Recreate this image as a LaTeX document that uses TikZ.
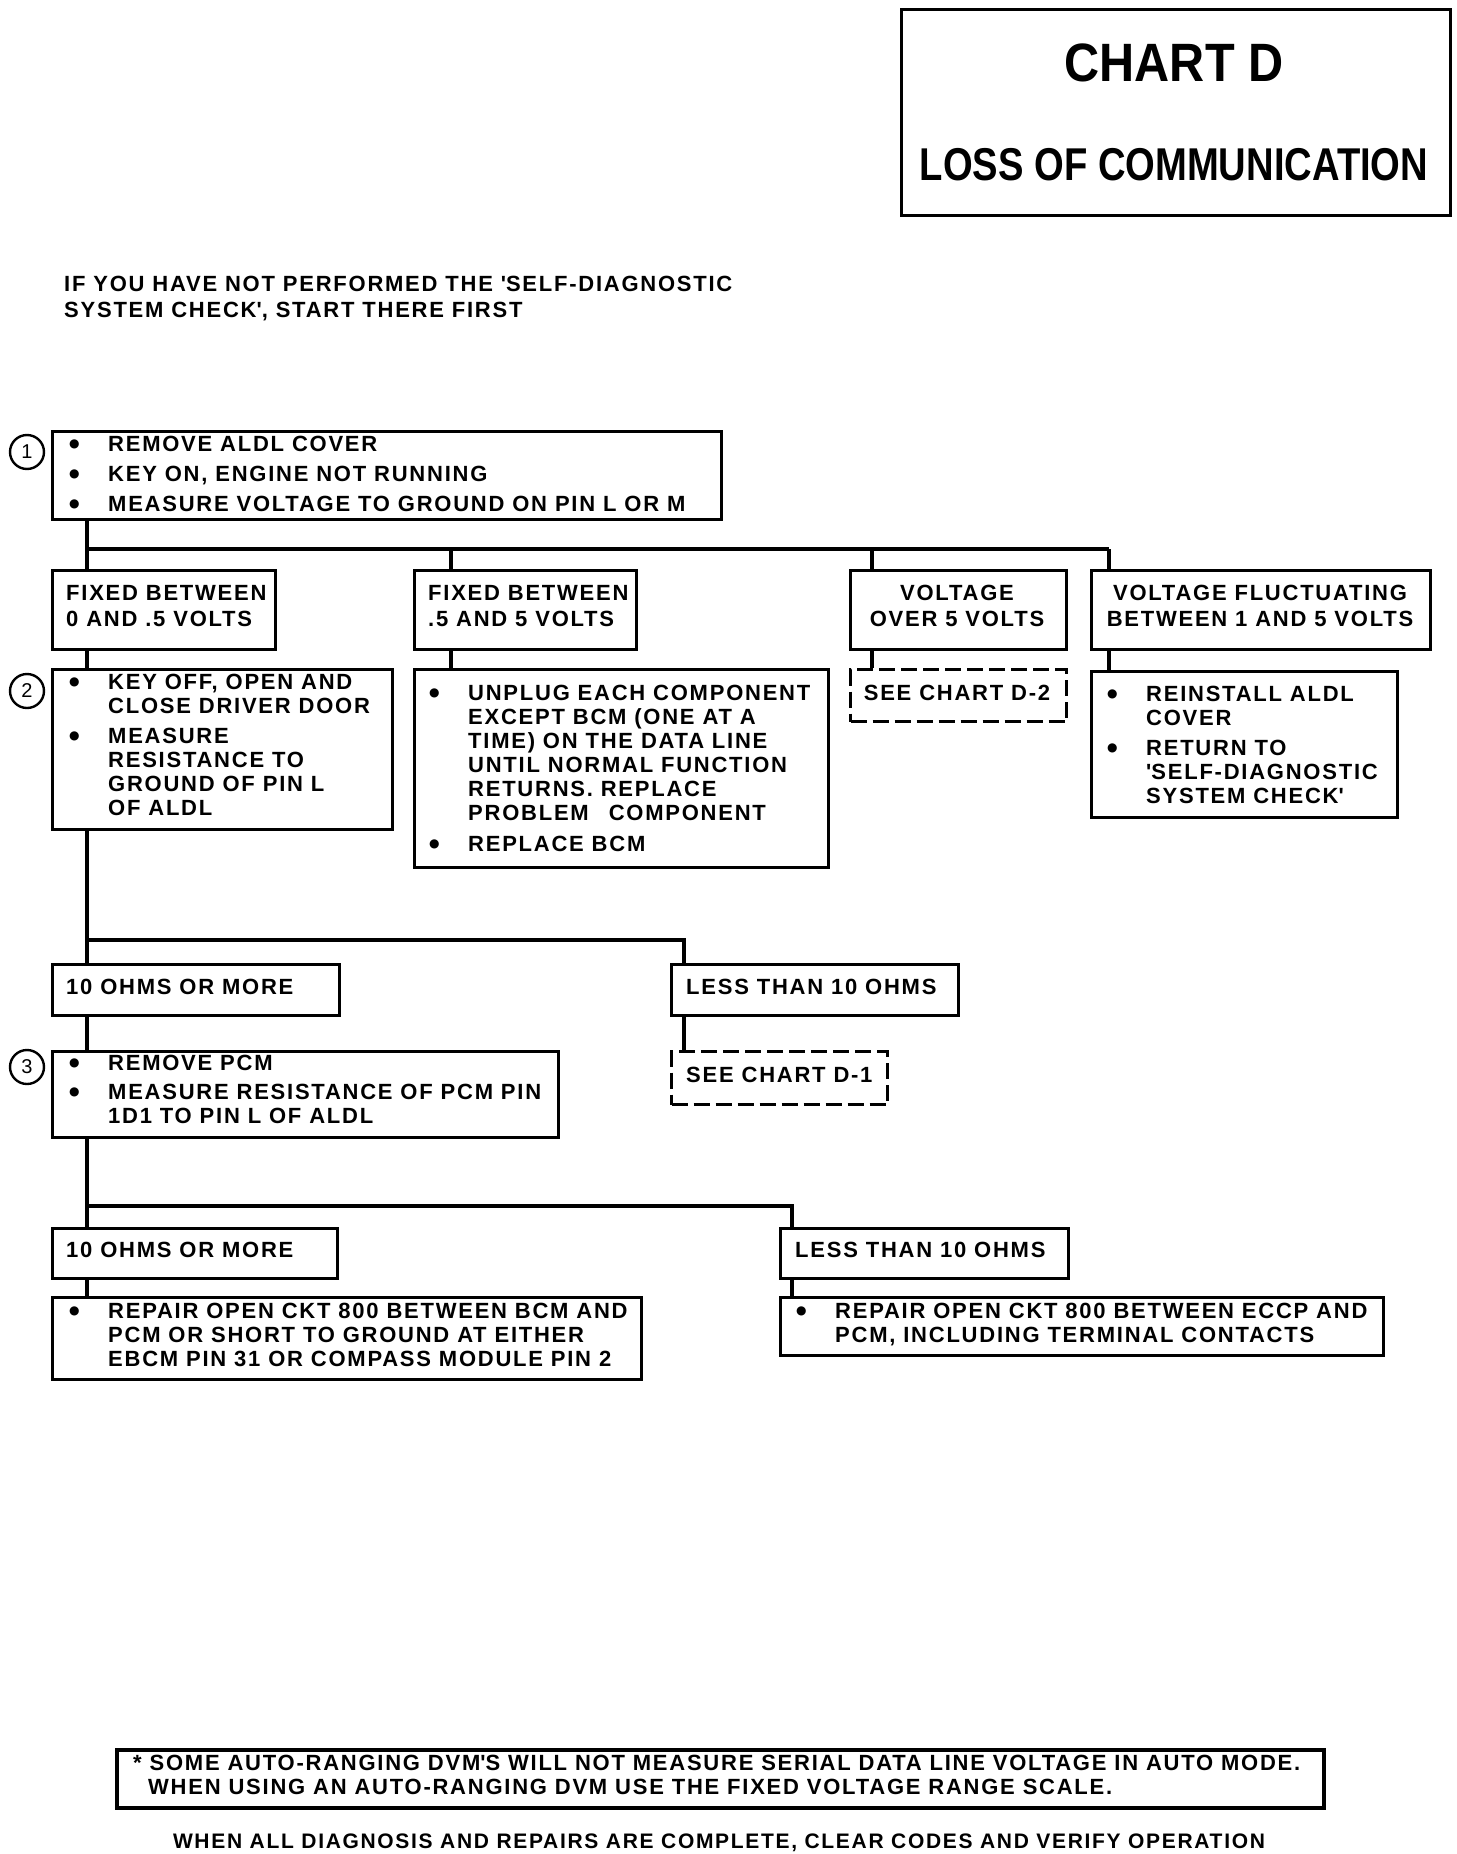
\documentclass[tikz,border=0pt]{standalone}
\usepackage{fontspec}
\newfontfamily\chartfont{Liberation Sans}[LetterSpace=8]
\newfontfamily\titlefont{Liberation Sans}
\newfontfamily\dotfont{DejaVu Sans}
\newcommand{\boxtext}[1]{\begin{tabular}[t]{@{}l@{}}#1\end{tabular}}
\newcommand{\boxtextc}[1]{\begin{tabular}[t]{@{}c@{}}#1\end{tabular}}
\newcommand{\bul}{\llap{\raisebox{3.5pt}{\dotfont\fontsize{12}{12}\selectfont ●}\hspace{28.5pt}}}
\tikzset{
  box/.style={draw, line width=3pt, inner sep=0pt, anchor=north west},
  dashbox/.style={box, dash pattern=on 16pt off 6pt},
  txt/.style={inner sep=0pt, anchor=base west, font=\chartfont\bfseries\fontsize{22}{24}\selectfont},
  txtc/.style={txt, anchor=base},
  link/.style={line width=3.2pt},
  stepnum/.style={draw, circle, line width=2.4pt, minimum size=34pt, inner sep=0pt,
    font=\titlefont\fontsize{20}{20}\selectfont},
}
\begin{document}
\begin{tikzpicture}[x=1pt, y=-1pt]
    \useasboundingbox (0,0) rectangle (1456,1854);
    % title
    \node[box, line width=3.2pt, minimum width=549pt, minimum height=206pt] (title) at (900,8) {};
    \node[inner sep=0pt, font=\titlefont\bfseries\fontsize{54}{54}\selectfont] (title1) at (1174,63) {\scalebox{0.9}[1]{CHART D}};
    \node[inner sep=0pt, font=\titlefont\bfseries\fontsize{46}{46}\selectfont] (title2) at (1174,165) {\scalebox{0.83}[1]{LOSS OF COMMUNICATION}};
    \node[txt] (intro) at (64,291) {\boxtext{IF YOU HAVE NOT PERFORMED THE \textquotesingle SELF-DIAGNOSTIC\\[2pt] SYSTEM CHECK\textquotesingle, START THERE FIRST}};

    % step 1
    \node[stepnum] (n1) at (27,452) {1};
    \node[box, minimum width=669pt, minimum height=88pt] (s1) at (51,430) {};
    \node[txt] (s1t) at (108,451) {\boxtext{\bul REMOVE ALDL COVER\\[6pt] \bul KEY ON, ENGINE NOT RUNNING\\[6pt] \bul MEASURE VOLTAGE TO GROUND ON PIN L OR M}};

    % voltage results
    \node[box, minimum width=223pt, minimum height=79pt] (a2) at (51,569) {};
    \node[box, minimum width=222pt, minimum height=79pt] (b2) at (413,569) {};
    \node[box, minimum width=216pt, minimum height=79pt] (c2) at (849,569) {};
    \node[box, minimum width=339pt, minimum height=79pt] (d2) at (1090,569) {};
    \node[txt] (a2t) at (66,600) {\boxtext{FIXED BETWEEN\\[2pt] 0 AND .5 VOLTS}};
    \node[txt] (b2t) at (428,600) {\boxtext{FIXED BETWEEN\\[2pt] .5 AND 5 VOLTS}};
    \node[txtc] (c2t) at (957,600) {\boxtextc{VOLTAGE\\[2pt] OVER 5 VOLTS}};
    \node[txtc] (d2t) at (1260,600) {\boxtextc{VOLTAGE FLUCTUATING\\[2pt] BETWEEN 1 AND 5 VOLTS}};

    % step 2 and actions
    \node[stepnum] (n2) at (27,691) {2};
    \node[box, minimum width=340pt, minimum height=160pt] (a3) at (51,668) {};
    \node[box, minimum width=414pt, minimum height=198pt] (b3) at (413,668) {};
    \node[dashbox, minimum width=216pt, minimum height=52pt] (c3) at (849,668) {};
    \node[box, minimum width=306pt, minimum height=146pt] (d3) at (1090,670) {};
    \node[txt] (a3t) at (108,689) {\boxtext{\bul KEY OFF, OPEN AND\\ CLOSE DRIVER DOOR\\[6pt] \bul MEASURE\\ RESISTANCE TO\\ GROUND OF PIN L\\ OF ALDL}};
    \node[txt] (b3t) at (468,700) {\boxtext{\bul UNPLUG EACH COMPONENT\\ EXCEPT BCM (ONE AT A\\ TIME) ON THE DATA LINE\\ UNTIL NORMAL FUNCTION\\ RETURNS. REPLACE\\ PROBLEM\hspace{20pt}COMPONENT\\[7pt] \bul REPLACE BCM}};
    \node[txtc] (c3t) at (957,700) {SEE CHART D-2};
    \node[txt] (d3t) at (1146,701) {\boxtext{\bul REINSTALL ALDL\\ COVER\\[6pt] \bul RETURN TO\\ \textquotesingle SELF-DIAGNOSTIC\\ SYSTEM CHECK\textquotesingle}};

    % resistance results
    \node[box, minimum width=287pt, minimum height=51pt] (a4) at (51,963) {};
    \node[box, minimum width=287pt, minimum height=51pt] (b4) at (670,963) {};
    \node[txt] (a4t) at (66,994) {10 OHMS OR MORE};
    \node[txt] (b4t) at (686,994) {LESS THAN 10 OHMS};

    % step 3
    \node[stepnum] (n3) at (27,1067) {3};
    \node[box, minimum width=506pt, minimum height=86pt] (a5) at (51,1050) {};
    \node[dashbox, minimum width=216pt, minimum height=53pt] (b5) at (670,1050) {};
    \node[txt] (a5t) at (108,1070) {\boxtext{\bul REMOVE PCM\\[5pt] \bul MEASURE RESISTANCE OF PCM PIN\\ 1D1 TO PIN L OF ALDL}};
    \node[txt] (b5t) at (686,1082) {SEE CHART D-1};

    \node[box, minimum width=285pt, minimum height=50pt] (a6) at (51,1227) {};
    \node[box, minimum width=288pt, minimum height=50pt] (b6) at (779,1227) {};
    \node[txt] (a6t) at (66,1257) {10 OHMS OR MORE};
    \node[txt] (b6t) at (795,1257) {LESS THAN 10 OHMS};

    \node[box, minimum width=589pt, minimum height=82pt] (a7) at (51,1296) {};
    \node[box, minimum width=603pt, minimum height=58pt] (b7) at (779,1296) {};
    \node[txt] (a7t) at (108,1318) {\boxtext{\bul REPAIR OPEN CKT 800 BETWEEN BCM AND\\ PCM OR SHORT TO GROUND AT EITHER\\ EBCM PIN 31 OR COMPASS MODULE PIN 2}};
    \node[txt] (b7t) at (835,1318) {\boxtext{\bul REPAIR OPEN CKT 800 BETWEEN ECCP AND\\ PCM, INCLUDING TERMINAL CONTACTS}};

    % notes
    \node[box, line width=3.8pt, minimum width=1207pt, minimum height=58pt] (note) at (115,1748) {};
    \node[txt] (notet) at (133,1770) {\boxtext{* SOME AUTO-RANGING DVM\textquotesingle S WILL NOT MEASURE SERIAL DATA LINE VOLTAGE IN AUTO MODE.\\ \hspace*{15pt}WHEN USING AN AUTO-RANGING DVM USE THE FIXED VOLTAGE RANGE SCALE.}};
    \node[txtc, font=\chartfont\bfseries\fontsize{21}{24}\selectfont] (final) at (719,1848) {WHEN ALL DIAGNOSIS AND REPAIRS ARE COMPLETE, CLEAR CODES AND VERIFY OPERATION};

    % connectors
    \coordinate (bus1) at (0,549);
    \coordinate (bus2) at (0,940);
    \coordinate (bus3) at (0,1206);
    \draw[link] ([xshift=36pt]s1.south west) -- ([xshift=36pt]a2.north west);
    \draw[link] ([xshift=36pt]a2.north west |- bus1) -- ([xshift=19pt]d2.north west |- bus1);
    \draw[link] ([xshift=38pt]b2.north west |- bus1) -- ([xshift=38pt]b2.north west);
    \draw[link] ([xshift=23pt]c2.north west |- bus1) -- ([xshift=23pt]c2.north west);
    \draw[link] ([xshift=19pt]d2.north west |- bus1) -- ([xshift=19pt]d2.north west);
    \draw[link] ([xshift=36pt]a2.south west) -- ([xshift=36pt]a3.north west);
    \draw[link] ([xshift=38pt]b2.south west) -- ([xshift=38pt]b3.north west);
    \draw[link] ([xshift=23pt]c2.south west) -- ([xshift=23pt]c3.north west);
    \draw[link] ([xshift=19pt]d2.south west) -- ([xshift=19pt]d3.north west);
    \draw[link] ([xshift=36pt]a3.south west) -- ([xshift=36pt]a4.north west);
    \draw[link] ([xshift=36pt]a3.south west |- bus2) -| ([xshift=14pt]b4.north west);
    \draw[link] ([xshift=36pt]a4.south west) -- ([xshift=36pt]a5.north west);
    \draw[link] ([xshift=14pt]b4.south west) -- ([xshift=14pt]b5.north west);
    \draw[link] ([xshift=36pt]a5.south west) -- ([xshift=36pt]a6.north west);
    \draw[link] ([xshift=36pt]a5.south west |- bus3) -| ([xshift=13pt]b6.north west);
    \draw[link] ([xshift=36pt]a6.south west) -- ([xshift=36pt]a7.north west);
    \draw[link] ([xshift=13pt]b6.south west) -- ([xshift=13pt]b7.north west);
\end{tikzpicture}
\end{document}
